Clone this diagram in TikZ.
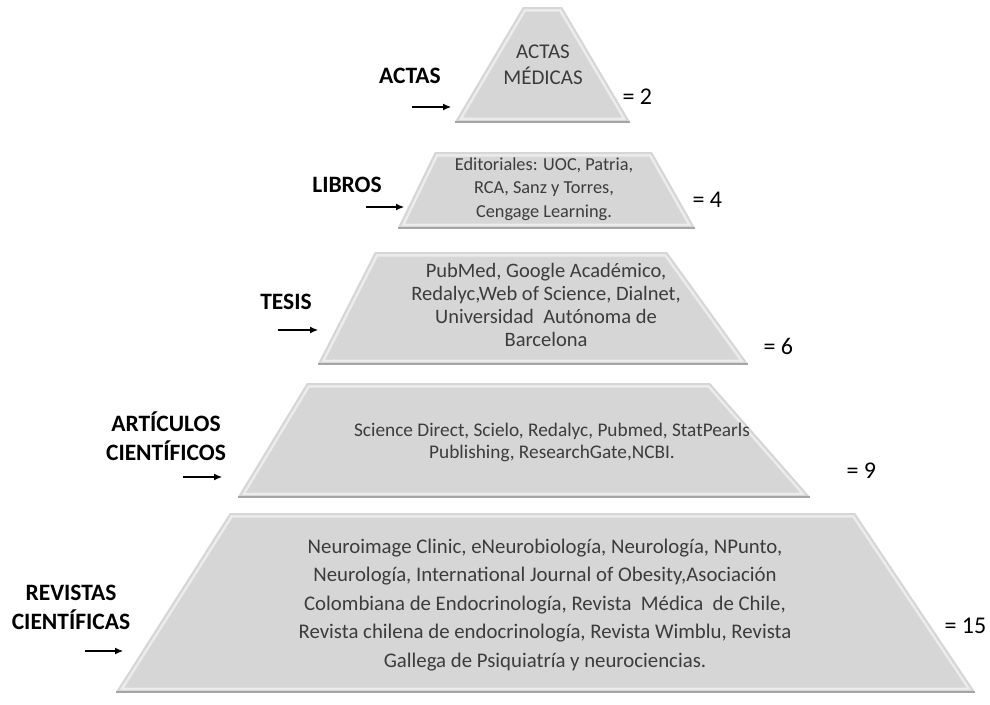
\documentclass[tikz,border=0pt]{standalone}
\usepackage{fontspec}
\setmainfont{Carlito}
\usetikzlibrary{arrows.meta}
\definecolor{piso}{RGB}{214,214,214}
\definecolor{pisoborde}{RGB}{165,165,165}
\definecolor{textopiso}{RGB}{60,60,60}
\tikzset{
  etiqueta/.style={font=\bfseries\fontsize{23.5}{29}\selectfont, align=center},
  cuenta/.style={font=\fontsize{24}{26}\selectfont, anchor=west},
  flecha/.style={-{Latex[length=8pt,width=7pt]}, line width=1.1pt},
  contenido/.style={text=textopiso, align=center},
}
% piso de la piramide: nombre, x sup. izq., x sup. der., y sup., x inf. izq., x inf. der., y inf.
\newcommand\piso[7]{%
  \coordinate (#1-si) at (#2,#4);
  \coordinate (#1-sd) at (#3,#4);
  \coordinate (#1-ii) at (#5,#7);
  \coordinate (#1-id) at (#6,#7);
  \begin{scope}
    \clip (#1-si) -- (#1-sd) -- (#1-id) -- (#1-ii) -- cycle;
    \fill[piso] (#1-si) -- (#1-sd) -- (#1-id) -- (#1-ii) -- cycle;
    \draw[white, opacity=0.55, line width=9pt] (#1-si) -- (#1-sd) -- (#1-id) -- (#1-ii) -- cycle;
    \draw[piso, line width=4pt] (#1-si) -- (#1-sd) -- (#1-id) -- (#1-ii) -- cycle;
  \end{scope}
  \draw[pisoborde, line width=1.6pt] (#1-ii) -- (#1-id);
}
\begin{document}
\begin{tikzpicture}[x=1pt, y=-1pt]
  \useasboundingbox (0,0) rectangle (990,704);
  % pisos
  \piso{p1}{523}{562}{7}{455}{630}{122}
  \piso{p2}{435}{652}{152}{398}{695}{228}
  \piso{p3}{375}{667}{252}{318}{748}{364}
  \piso{p4}{307}{710}{383}{238}{810}{497}
  \piso{p5}{230}{855}{513}{116}{975}{692}
  % textos de los pisos
  \node[contenido, font=\fontsize{21}{26}\selectfont] (t1) at (543,65) {ACTAS\\MÉDICAS};
  \node[contenido, font=\fontsize{18.3}{23.5}\selectfont] (t2) at (544,189) {Editoriales: UOC, Patria,\\RCA, Sanz y Torres,\\Cengage Learning.};
  \node[contenido, font=\fontsize{20.5}{22.7}\selectfont] (t3) at (546,305) {PubMed, Google Académico,\\Redalyc,Web of Science, Dialnet,\\Universidad\ \ Autónoma de\\Barcelona};
  \node[contenido, font=\fontsize{19.3}{22}\selectfont] (t4) at (552,442) {Science Direct, Scielo, Redalyc, Pubmed, StatPearls\\Publishing, ResearchGate,NCBI.};
  \node[contenido, font=\fontsize{20.8}{28.5}\selectfont] (t5) at (545,605) {Neuroimage Clinic, eNeurobiología, Neurología, NPunto,\\Neurología, International Journal of Obesity,Asociación\\Colombiana de Endocrinología, Revista\ \ Médica\ \ de Chile,\\Revista chilena de endocrinología, Revista Wimblu, Revista\\Gallega de Psiquiatría y neurociencias.};
  % etiquetas
  \node[etiqueta] (e1) at (410,76) {ACTAS};
  \node[etiqueta] (e2) at (347,185) {LIBROS};
  \node[etiqueta] (e3) at (286,302) {TESIS};
  \node[etiqueta] (e4) at (166,436) {ARTÍCULOS\\CIENTÍFICOS};
  \node[etiqueta] (e5) at (71,607) {REVISTAS\\CIENTÍFICAS};
  % flechas
  \coordinate (f1a) at (412,107); \coordinate (f1b) at (451,107);
  \coordinate (f2a) at (366,207); \coordinate (f2b) at (404,207);
  \coordinate (f3a) at (278,330); \coordinate (f3b) at (318,330);
  \coordinate (f4a) at (183,477); \coordinate (f4b) at (222,477);
  \coordinate (f5a) at (85,651); \coordinate (f5b) at (123,651);
  \draw[flecha] (f1a) -- (f1b);
  \draw[flecha] (f2a) -- (f2b);
  \draw[flecha] (f3a) -- (f3b);
  \draw[flecha] (f4a) -- (f4b);
  \draw[flecha] (f5a) -- (f5b);
  % cantidades
  \node[cuenta] (c1) at (619,97) {= 2};
  \node[cuenta] (c2) at (689,200) {= 4};
  \node[cuenta] (c3) at (760,346) {= 6};
  \node[cuenta] (c4) at (843,471) {= 9};
  \node[cuenta] (c5) at (941,626) {= 15};
\end{tikzpicture}
\end{document}
